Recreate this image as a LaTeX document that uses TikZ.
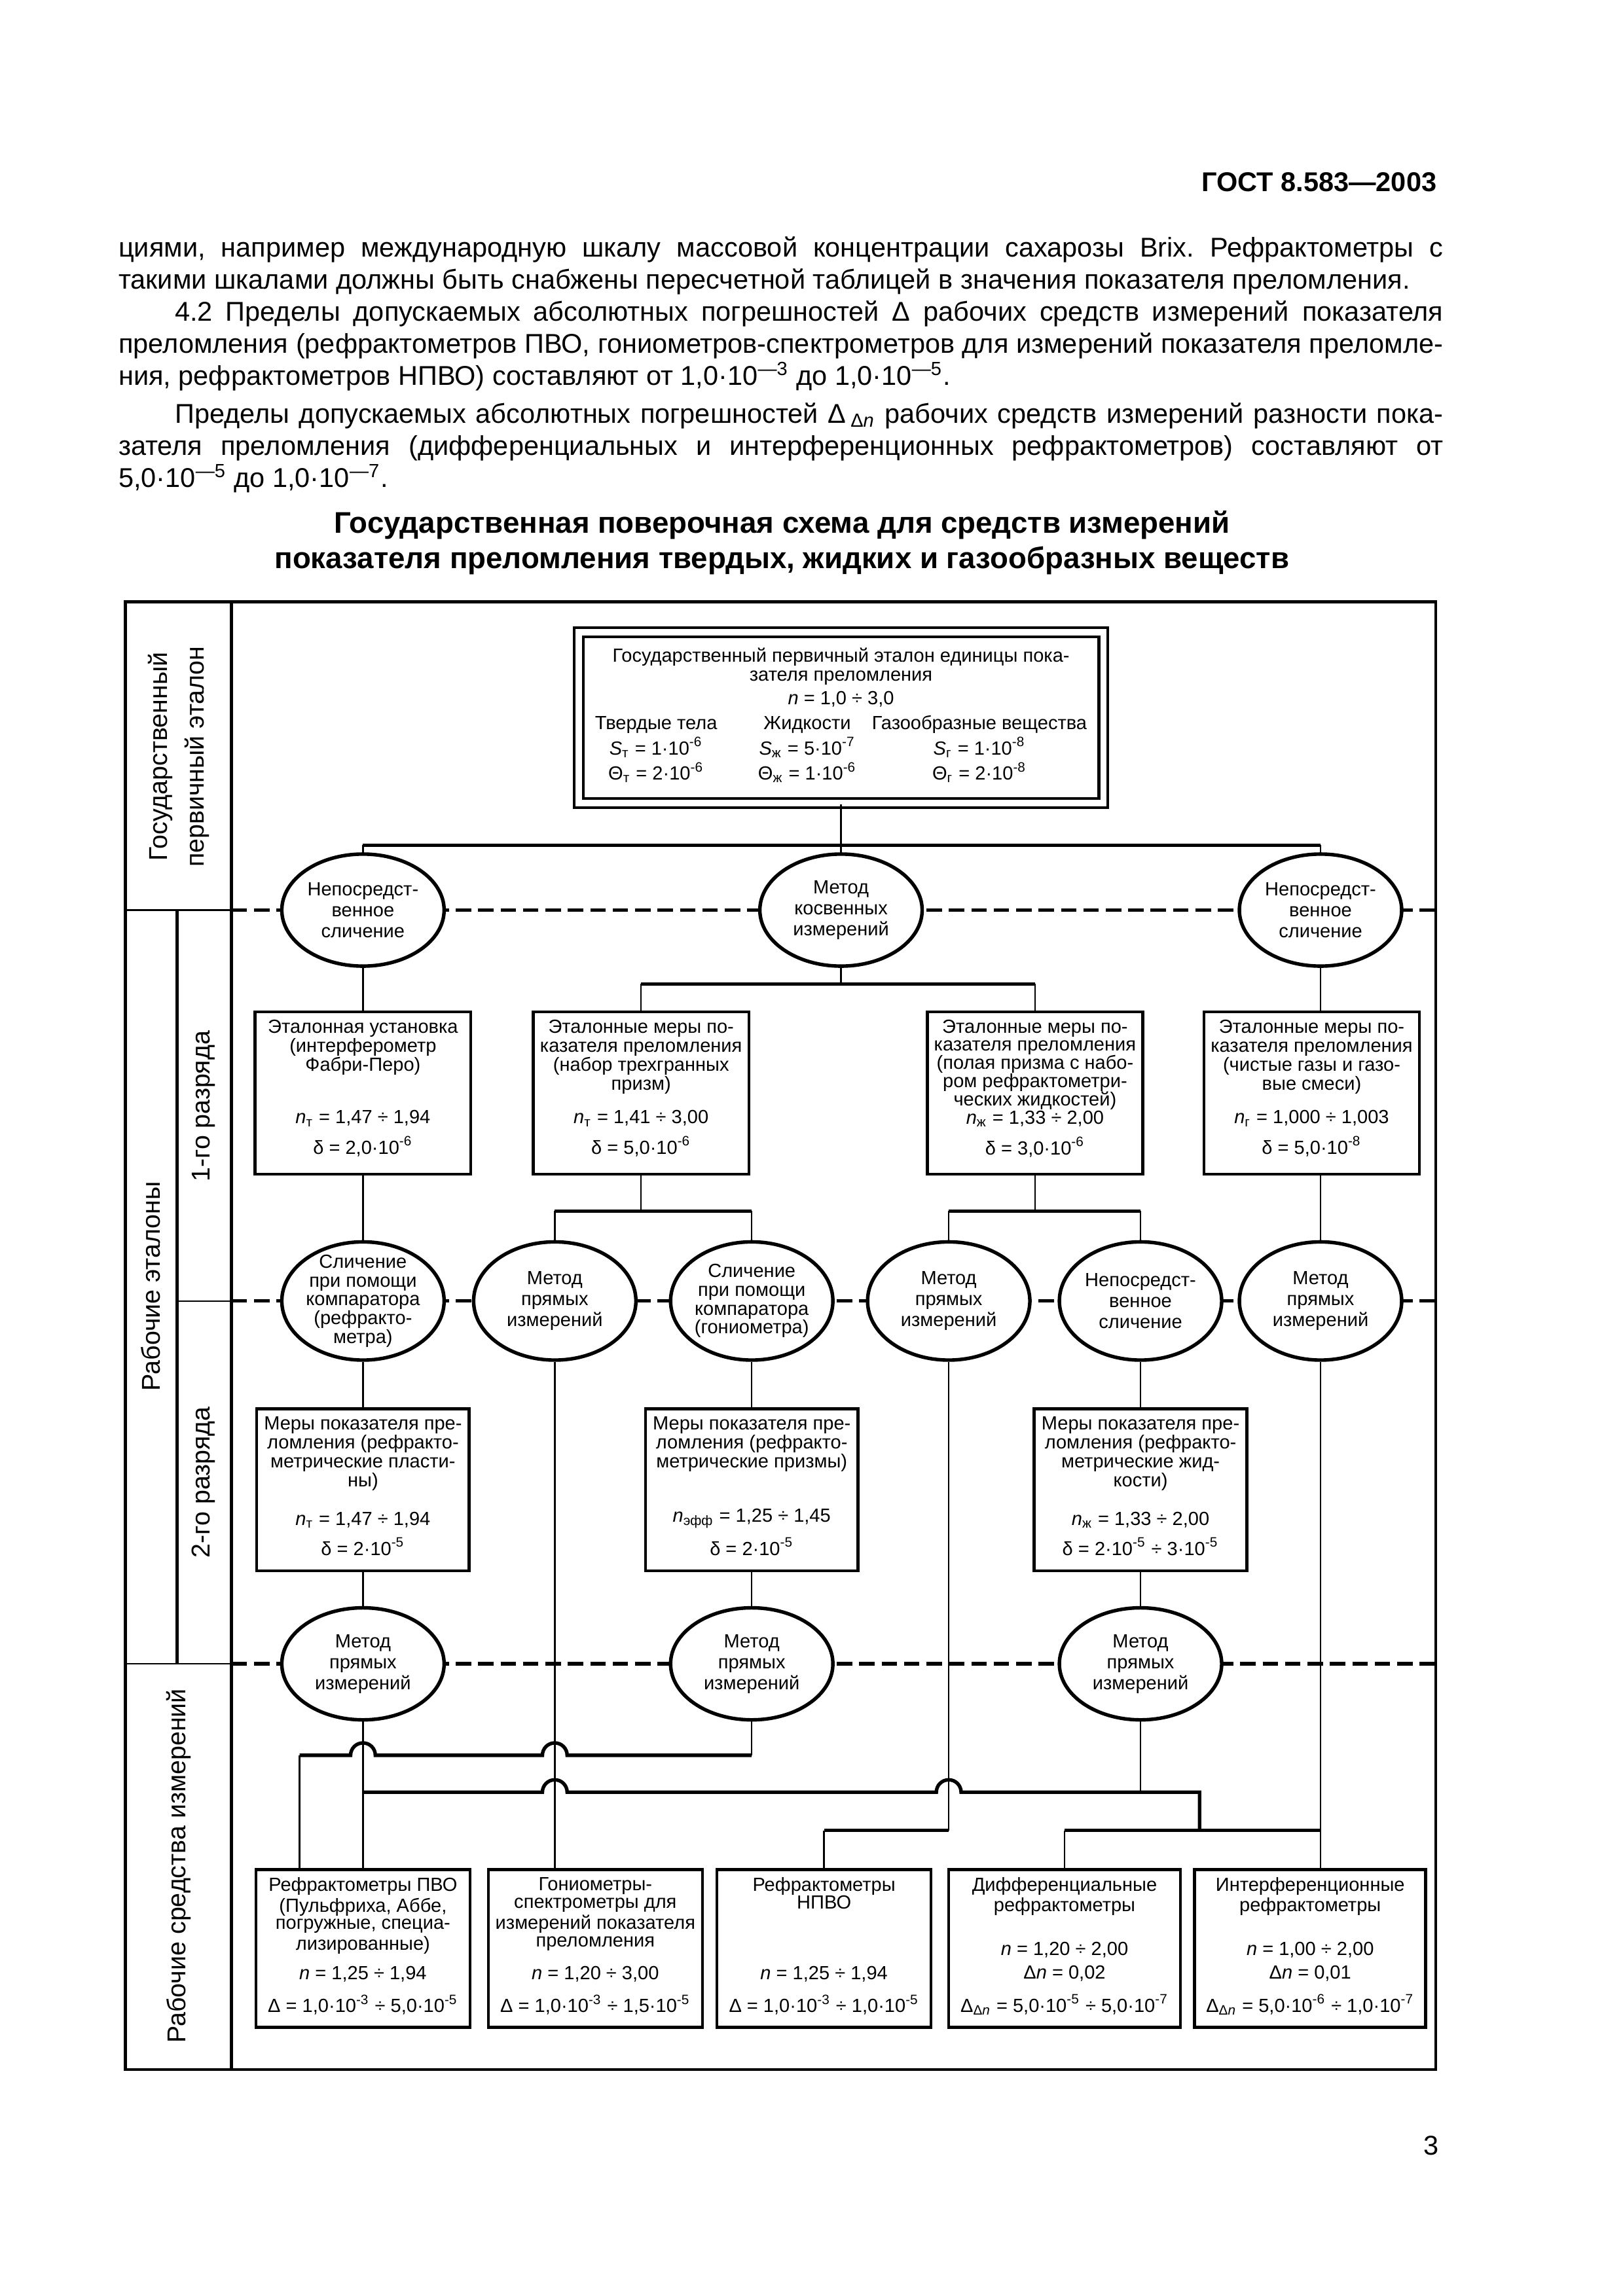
\documentclass[tikz,border=0pt]{standalone}
\usepackage{fontspec}
\setmainfont{Liberation Sans}
\usetikzlibrary{shapes}

\begin{document}
\begin{tikzpicture}[x=0.190909mm,y=-0.190909mm,
		font=\fontsize{7}{7.05}\selectfont,
		block/.style={draw,line width=1.1pt,fill=white,inner xsep=0.45mm,inner ysep=1mm},
		oval/.style={draw,ellipse,line width=1.3pt,fill=white,align=center,
			minimum width=21mm,minimum height=14.5mm,inner sep=-1.5mm,
			font=\fontsize{7}{7.7}\selectfont},
		link/.style={line width=0.6pt},
		bus/.style={line width=1.3pt},
		level/.style={line width=1.3pt,dash pattern=on 2mm off 0.9mm},
		sidelabel/.style={rotate=90,align=center,font=\fontsize{9.5}{13.5}\selectfont}]
	
	\useasboundingbox (0,0) rectangle (1100,1556.6);
	
	% Page text
	\node[anchor=base east,inner sep=0,font=\fontsize{10}{12}\selectfont\bfseries]
	(gost) at (974,130) {ГОСТ 8.583—2003};
	
	\node[anchor=north west,inner sep=0,text width=171.4mm,align=justify,
	font=\fontsize{10}{11.8}\selectfont\frenchspacing] (text) at (80,160)
	{циями, например международную шкалу массовой концентрации сахарозы Brix. Рефрактометры с\linebreak
		такими шкалами должны быть снабжены пересчетной таблицей в значения показателя преломления.\par
		\hspace*{7.3mm}4.2 Пределы допускаемых абсолютных погрешностей Δ рабочих средств измерений показателя\linebreak
		преломления (рефрактометров ПВО, гониометров-спектрометров для измерений показателя преломле-\linebreak
		ния, рефрактометров НПВО) составляют от 1,0·10\textsuperscript{—3} до 1,0·10\textsuperscript{—5}.\par
		\vspace{0.8mm}\hspace*{7.3mm}Пределы допускаемых абсолютных погрешностей Δ\,\textsubscript{Δ\textit{n}} рабочих средств измерений разности пока-\linebreak
		зателя преломления (дифференциальных и интерференционных рефрактометров) составляют от\linebreak
		5,0·10\textsuperscript{—5} до 1,0·10\textsuperscript{—7}.};
	
	\node[anchor=north,inner sep=0,align=center,font=\fontsize{11}{13}\selectfont\bfseries]
	(title) at (530,346) {Государственная поверочная схема для средств измерений\\
		показателя преломления твердых, жидких и газообразных веществ};
	
	\node[anchor=base,inner sep=0,font=\fontsize{10}{12}\selectfont]
	(pagenum) at (970,1461) {3};
	
	% Frame
	\draw[line width=1pt] (85,408) rectangle (973,1403);
	\draw[line width=1.2pt] (157,408) -- (157,1403);
	\draw[line width=1.2pt] (120,617) -- (120,1128);
	\draw[line width=0.5pt] (85,617) -- (157,617);
	\draw[line width=0.5pt] (120,882) -- (157,882);
	\draw[line width=0.5pt] (85,1128) -- (157,1128);
	
	\node[sidelabel] (lab0) at (121,513) {Государственный\\первичный эталон};
	\node[sidelabel] (lab1) at (102,872) {Рабочие эталоны};
	\node[sidelabel] (lab2) at (138,750) {1-го разряда};
	\node[sidelabel] (lab3) at (138,1005) {2-го разряда};
	\node[sidelabel] (lab4) at (121,1265) {Рабочие средства измерений};
	
	% Levels
	\draw[level] (157,617) -- (973,617);
	\draw[level] (157,882) -- (973,882);
	\draw[level] (157,1128) -- (973,1128);
	
	% Primary standard
	\node[draw,double,double distance=0.8mm,line width=1pt,fill=white,
	align=center,minimum width=67.9mm,minimum height=22.1mm,inner sep=0.5mm]
	(etalon) at (570,486.5)
	{Государственный первичный эталон единицы пока-\\
		зателя преломления\\[1.5pt]
		\textit{n} = 1,0 ÷ 3,0\\[1pt]
		{\renewcommand{\arraystretch}{1.3}%
			\begin{tabular}{@{}c@{\hspace{5.3mm}}c@{\hspace{2mm}}c@{}}
				Твердые тела & Жидкости & Газообразные вещества\\
				\textit{S}\textsubscript{т} = 1·10\textsuperscript{-6} &
				\textit{S}\textsubscript{ж} = 5·10\textsuperscript{-7} &
				\textit{S}\textsubscript{г} = 1·10\textsuperscript{-8}\\
				Θ\textsubscript{т} = 2·10\textsuperscript{-6} &
				Θ\textsubscript{ж} = 1·10\textsuperscript{-6} &
				Θ\textsubscript{г} = 2·10\textsuperscript{-8}
		\end{tabular}}};
	
	% Methods, first rank
	\node[oval] (meth1) at (246,617) {Непосредст-\\венное\\сличение};
	\node[oval] (meth2) at (570,617) {Метод\\косвенных\\измерений};
	\node[oval] (meth3) at (895,617) {Непосредст-\\венное\\сличение};
	
	% First rank standards
	\node[block] (block1) at (246,741)
	{\parbox[c][19mm][s]{27mm}{\centering Эталонная установка\\(интерферометр\\Фабри-Перо)\par\vfill
			\textit{n}\textsubscript{т} = 1,47 ÷ 1,94\\[2.6pt]δ = 2,0·10\textsuperscript{-6}\par\vspace{1.3mm}}};
	\node[block] (block2) at (434.5,741)
	{\parbox[c][19mm][s]{27mm}{\centering Эталонные меры по-\\казателя преломления\\(набор трехгранных\\призм)\par\vfill
			\textit{n}\textsubscript{т} = 1,41 ÷ 3,00\\[2.6pt]δ = 5,0·10\textsuperscript{-6}\par\vspace{1.3mm}}};
	\node[block,font=\fontsize{7}{6.7}\selectfont] (block3) at (701.5,741)
	{\parbox[c][19mm][s]{27mm}{\centering Эталонные меры по-\\казателя преломления\\(полая призма с набо-\\ром рефрактометри-\\ческих жидкостей)\par\vfill
			\textit{n}\textsubscript{ж} = 1,33 ÷ 2,00\\[2.9pt]δ = 3,0·10\textsuperscript{-6}\par\vspace{1.3mm}}};
	\node[block] (block4) at (889,741)
	{\parbox[c][19mm][s]{27mm}{\centering Эталонные меры по-\\казателя преломления\\(чистые газы и газо-\\вые смеси)\par\vfill
			\textit{n}\textsubscript{г} = 1,000 ÷ 1,003\\[2.6pt]δ = 5,0·10\textsuperscript{-8}\par\vspace{1.3mm}}};
	
	% Methods, second rank
	\node[oval,minimum height=15.3mm,font=\fontsize{7}{6.9}\selectfont] (meth4) at (246,882)
	{Сличение\\при помощи\\компаратора\\(рефракто-\\метра)};
	\node[oval,minimum height=15.3mm] (meth5) at (376,882) {Метод\\прямых\\измерений};
	\node[oval,minimum height=15.3mm,font=\fontsize{7}{6.9}\selectfont] (meth6) at (509.5,882)
	{Сличение\\при помощи\\компаратора\\(гониометра)};
	\node[oval,minimum height=15.3mm] (meth7) at (643,882) {Метод\\прямых\\измерений};
	\node[oval,minimum height=15.3mm] (meth8) at (773,882) {Непосредст-\\венное\\сличение};
	\node[oval,minimum height=15.3mm] (meth9) at (895,882) {Метод\\прямых\\измерений};
	
	% Second rank standards
	\node[block] (block5) at (246,1010)
	{\parbox[c][19mm][s]{26.6mm}{\centering Меры показателя пре-\\ломления (рефракто-\\метрические пласти-\\ны)\par\vfill
			\textit{n}\textsubscript{т} = 1,47 ÷ 1,94\\[2.6pt]δ = 2·10\textsuperscript{-5}\par\vspace{1mm}}};
	\node[block] (block6) at (509.5,1010)
	{\parbox[c][19mm][s]{26.6mm}{\centering Меры показателя пре-\\ломления (рефракто-\\метрические призмы)\par\vfill
			\textit{n}\textsubscript{эфф} = 1,25 ÷ 1,45\\[2.6pt]δ = 2·10\textsuperscript{-5}\par\vspace{1mm}}};
	\node[block] (block7) at (773,1010)
	{\parbox[c][19mm][s]{26.6mm}{\centering Меры показателя пре-\\ломления (рефракто-\\метрические жид-\\кости)\par\vfill
			\textit{n}\textsubscript{ж} = 1,33 ÷ 2,00\\[2.6pt]δ = 2·10\textsuperscript{-5} ÷ 3·10\textsuperscript{-5}\par\vspace{1mm}}};
	
	% Methods, working instruments
	\node[oval] (meth10) at (246,1128) {Метод\\прямых\\измерений};
	\node[oval] (meth11) at (509.5,1128) {Метод\\прямых\\измерений};
	\node[oval] (meth12) at (773,1128) {Метод\\прямых\\измерений};
	
	% Working instruments
	\node[block,font=\fontsize{7}{6.5}\selectfont] (block8) at (246,1321)
	{\parbox[c][18.4mm][s]{26.8mm}{\centering Рефрактометры ПВО\\(Пульфриха, Аббе,\\погружные, специа-\\лизированные)\par\vfill
			\textit{n} = 1,25 ÷ 1,94\\[3.8pt]Δ = 1,0·10\textsuperscript{-3} ÷ 5,0·10\textsuperscript{-5}\par\vspace{0.6mm}}};
	\node[block,font=\fontsize{7}{6.5}\selectfont] (block9) at (403.5,1321)
	{\parbox[c][18.4mm][s]{26.8mm}{\centering Гониометры-\\спектрометры для\\измерений показателя\\преломления\par\vfill
			\textit{n} = 1,20 ÷ 3,00\\[3.8pt]Δ = 1,0·10\textsuperscript{-3} ÷ 1,5·10\textsuperscript{-5}\par\vspace{0.6mm}}};
	\node[block,font=\fontsize{7}{6.5}\selectfont] (block10) at (558.5,1321)
	{\parbox[c][18.4mm][s]{26.8mm}{\centering Рефрактометры\\НПВО\par\vfill
			\textit{n} = 1,25 ÷ 1,94\\[3.8pt]Δ = 1,0·10\textsuperscript{-3} ÷ 1,0·10\textsuperscript{-5}\par\vspace{0.6mm}}};
	\node[block,font=\fontsize{7}{6.5}\selectfont] (block11) at (721.5,1321)
	{\parbox[c][18.4mm][s]{29.1mm}{\centering Дифференциальные\\рефрактометры\par\vfill
			\textit{n} = 1,20 ÷ 2,00\\[2.2pt]Δ\textit{n} = 0,02\\[3.8pt]Δ\textsubscript{Δ\textit{n}} = 5,0·10\textsuperscript{-5} ÷ 5,0·10\textsuperscript{-7}\par\vspace{0.6mm}}};
	\node[block,font=\fontsize{7}{6.5}\selectfont] (block12) at (888,1321)
	{\parbox[c][18.4mm][s]{29mm}{\centering Интерференционные\\рефрактометры\par\vfill
			\textit{n} = 1,00 ÷ 2,00\\[2.2pt]Δ\textit{n} = 0,01\\[3.8pt]Δ\textsubscript{Δ\textit{n}} = 5,0·10\textsuperscript{-6} ÷ 1,0·10\textsuperscript{-7}\par\vspace{0.6mm}}};
	
	% Bus levels
	\coordinate (bar1) at (0,573);
	\coordinate (bar2) at (0,667);
	\coordinate (bar3) at (0,821);
	\coordinate (bus1) at (0,1190);
	\coordinate (bus2) at (0,1215);
	\coordinate (bus3) at (0,1241);
	\coordinate (turn) at (813,0);
	\coordinate (pvo) at ([xshift=-8.2mm]block8.north);
	
	% Lines
	\draw[link] (etalon.south) -- (etalon.south |- bar1);
	\draw[bus] (meth1.north |- bar1) -- (meth3.north |- bar1);
	\draw[link] (meth1.north |- bar1) -- (meth1.north);
	\draw[link] (meth2.north |- bar1) -- (meth2.north);
	\draw[link] (meth3.north |- bar1) -- (meth3.north);
	
	\draw[link] (meth1.south) -- (block1.north);
	\draw[link] (meth2.south) -- (meth2.south |- bar2);
	\draw[bus] (block2.north |- bar2) -- (block3.north |- bar2);
	\draw[link] (block2.north |- bar2) -- (block2.north);
	\draw[link] (block3.north |- bar2) -- (block3.north);
	\draw[link] (meth3.south) -- (meth3.south |- block4.north);
	
	\draw[link] (block1.south) -- (meth4.north);
	\draw[link] (block2.south) -- (block2.south |- bar3);
	\draw[bus] (meth5.north |- bar3) -- (meth6.north |- bar3);
	\draw[link] (meth5.north |- bar3) -- (meth5.north);
	\draw[link] (meth6.north |- bar3) -- (meth6.north);
	\draw[link] (block3.south) -- (block3.south |- bar3);
	\draw[bus] (meth7.north |- bar3) -- (meth8.north |- bar3);
	\draw[link] (meth7.north |- bar3) -- (meth7.north);
	\draw[link] (meth8.north |- bar3) -- (meth8.north);
	\draw[link] (meth9.north |- block4.south) -- (meth9.north);
	
	\draw[link] (meth4.south) -- (block5.north);
	\draw[link] (meth6.south) -- (block6.north);
	\draw[link] (meth8.south) -- (block7.north);
	
	\draw[link] (block5.south) -- (meth10.north);
	\draw[link] (block6.south) -- (meth11.north);
	\draw[link] (block7.south) -- (meth12.north);
	
	% Long lines to the instruments
	\draw[link] (meth5.south) -- (meth5.south |- block9.north);
	\draw[link] (meth9.south) -- (meth9.south |- block12.north);
	\draw[link] (meth10.south) -- (block8.north);
	\draw[link] (meth7.south) -- (meth7.south |- bus3);
	\draw[bus] (meth7.south |- bus3) -- (block10.north |- bus3);
	\draw[link] (block10.north |- bus3) -- (block10.north);
	
	% Crossings
	\coordinate (h1) at (meth10.south |- bus1);
	\coordinate (h2) at (meth5.south |- bus1);
	\coordinate (h3) at (meth5.south |- bus2);
	\coordinate (h4) at (meth7.south |- bus2);
	
	\draw[link] (meth11.south) -- (meth11.south |- bus1);
	\draw[bus] (meth11.south |- bus1) -- ([xshift=1.6mm]h2)
	arc[start angle=0,end angle=180,radius=1.6mm] -- ([xshift=1.6mm]h1)
	arc[start angle=0,end angle=180,radius=1.6mm] -- (pvo |- bus1);
	\draw[link] (pvo |- bus1) -- (pvo);
	
	\draw[link] (meth12.south) -- (meth12.south |- bus2);
	\draw[bus] (meth10.south |- bus2) -- ([xshift=-1.6mm]h3)
	arc[start angle=180,end angle=0,radius=1.6mm] -- ([xshift=-1.6mm]h4)
	arc[start angle=180,end angle=0,radius=1.6mm] -- (turn |- bus2) -- (turn |- bus3);
	\draw[bus] (block11.north |- bus3) -- (meth9.south |- bus3);
	\draw[link] (block11.north |- bus3) -- (block11.north);
	
\end{tikzpicture}
\end{document}
